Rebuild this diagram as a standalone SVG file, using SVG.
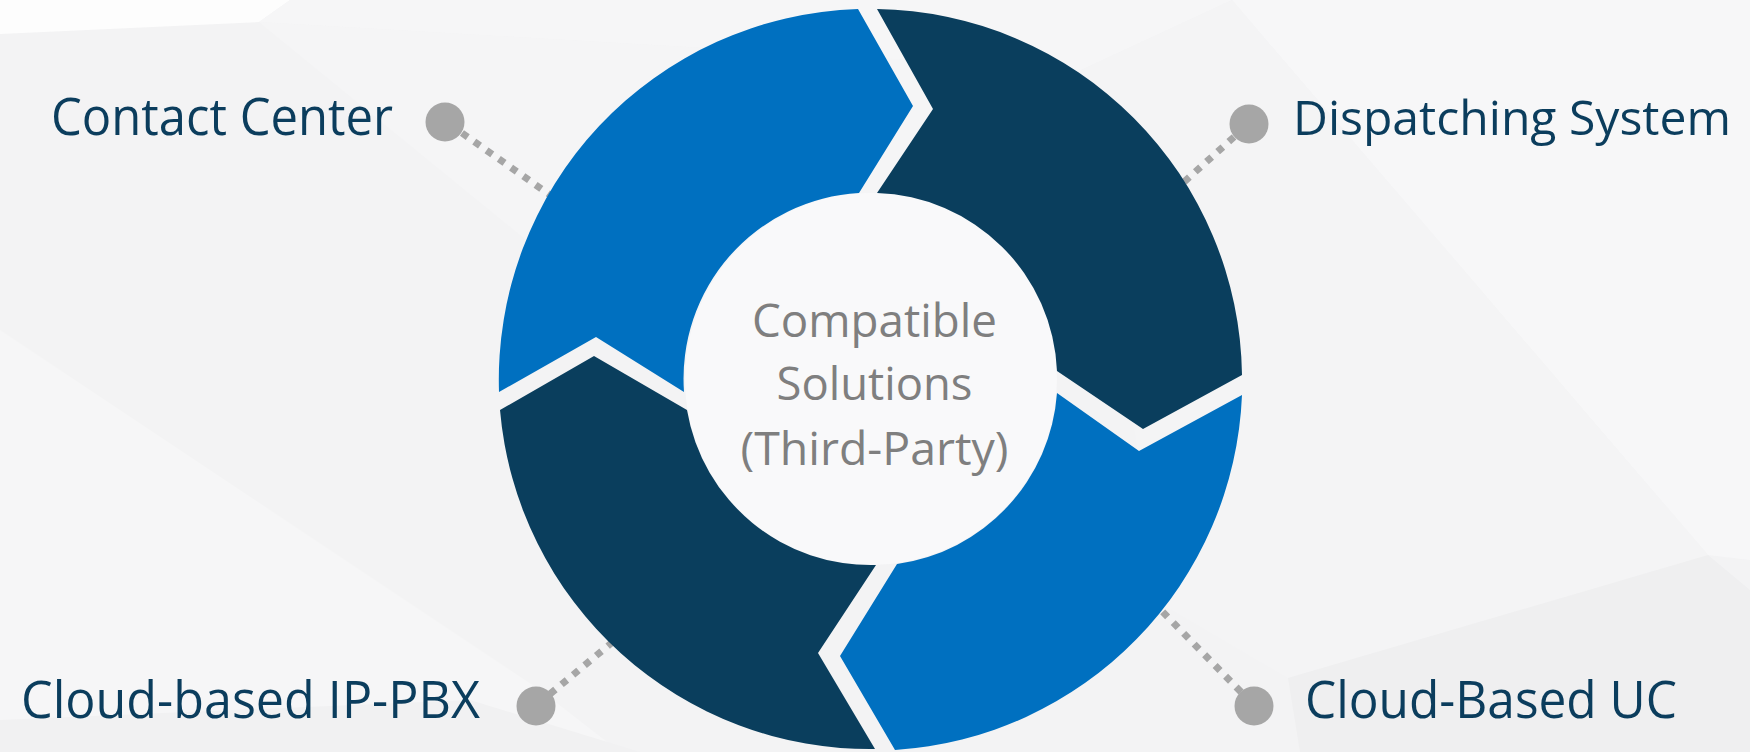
<svg xmlns="http://www.w3.org/2000/svg" width="1750" height="752" viewBox="0 0 1750 752">
  <style>
    .label { font-family: "Segoe UI", "Open Sans", "Noto Sans", sans-serif; font-size: 51px; fill: #0b3d5d; }
    .label-r { font-size: 48px; }
    .center { font-family: "Segoe UI", "Open Sans", "Noto Sans", sans-serif; font-size: 45px; fill: #7f7f7f; text-anchor: middle; }
    .dot { fill: #a6a6a6; }
    .blue { fill: #0070c0; }
    .navy { fill: #0a3e5d; }
    .conn { stroke: #a6a6a6; stroke-width: 7; stroke-dasharray: 7 8; fill: none; }
  </style>
  <g id="background">
    <rect x="0" y="0" width="1750" height="752" fill="#f3f3f4"/>
    <polygon points="0,0 290,0 259,22 0,34" fill="#fdfdfd"/>
    <polygon points="290,0 1232,0 1081,70 259,22" fill="#f6f6f7"/>
    <polygon points="259,22 1081,70 1000,380 600,300" fill="#f5f5f6"/>
    <polygon points="1232,0 1750,0 1750,560 1708,555" fill="#f7f7f8"/>
    <polygon points="1081,70 1232,0 1708,555 1288,678 1160,603" fill="#f4f4f5"/>
    <polygon points="1288,678 1708,555 1750,590 1750,752 1300,752" fill="#efeff0"/>
    <polygon points="0,330 540,690 620,752 0,752" fill="#f6f6f7"/>
    <polygon points="0,720 470,700 640,752 0,752" fill="#f1f1f2"/>
    <circle cx="871" cy="379" r="186" fill="#f9f9fa"/>
  </g>
  <g id="connectors">
    <line class="conn" x1="462" y1="133" x2="560" y2="202"/>
    <line class="conn" x1="1234" y1="137" x2="1175" y2="190"/>
    <line class="conn" x1="550" y1="694" x2="615" y2="640"/>
    <line class="conn" x1="1241" y1="692" x2="1155" y2="604"/>
  </g>
  <g id="ring">
    <path id="seg-top-left" class="blue" d="M 499,392 A 371 371 0 0 1 858,9 L 913,106 L 859,193 A 186 186 0 0 0 684,392 L 596,337 Z"/>
    <path id="seg-top-right" class="navy" d="M 877,9 A 371 371 0 0 1 1242,375 L 1143,429 L 1057,371 A 186 186 0 0 0 877,193 L 933,109 Z"/>
    <path id="seg-bottom-right" class="blue" d="M 1242,395 A 371 371 0 0 1 895,750 L 840,656 L 897,564 A 186 186 0 0 0 1057,393 L 1139,451 Z"/>
    <path id="seg-bottom-left" class="navy" d="M 875,749 A 371 371 0 0 1 500,410 L 594,356 L 687,410 A 186 186 0 0 0 876,565 L 818,653 Z"/>
  </g>
  <g id="center-label">
    <text class="center" x="874.5" y="337" textLength="245" lengthAdjust="spacingAndGlyphs">Compatible</text>
    <text class="center" x="874.5" y="400" textLength="196" lengthAdjust="spacingAndGlyphs">Solutions</text>
    <text class="center" x="874.5" y="465" textLength="268" lengthAdjust="spacingAndGlyphs">(Third-Party)</text>
  </g>
  <g id="node-contact-center">
    <circle class="dot" cx="445" cy="122" r="19.5"/>
    <text class="label" x="51" y="135" textLength="342" lengthAdjust="spacingAndGlyphs">Contact Center</text>
  </g>
  <g id="node-dispatching-system">
    <circle class="dot" cx="1249" cy="124" r="19.5"/>
    <text class="label label-r" x="1293" y="135" textLength="438" lengthAdjust="spacingAndGlyphs">Dispatching System</text>
  </g>
  <g id="node-cloud-ip-pbx">
    <circle class="dot" cx="536" cy="706" r="19.5"/>
    <text class="label" x="21" y="718" textLength="459" lengthAdjust="spacingAndGlyphs">Cloud-based IP-PBX</text>
  </g>
  <g id="node-cloud-uc">
    <circle class="dot" cx="1254" cy="706" r="19.5"/>
    <text class="label" x="1305" y="718" textLength="372" lengthAdjust="spacingAndGlyphs">Cloud-Based UC</text>
  </g>
</svg>
